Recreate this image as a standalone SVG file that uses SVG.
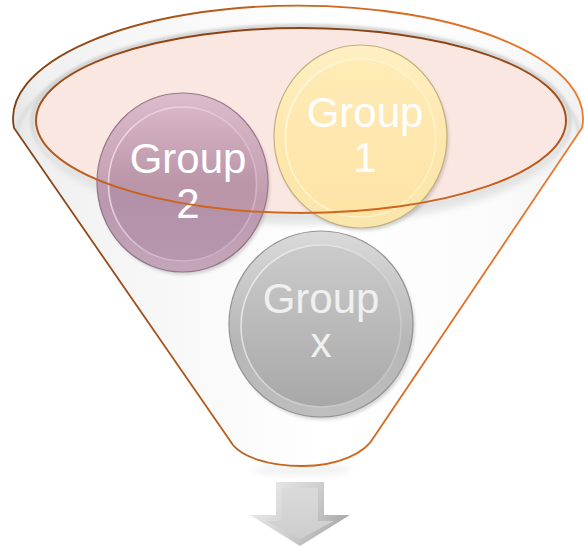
<svg xmlns="http://www.w3.org/2000/svg" width="584" height="547" viewBox="0 0 584 547">
  <style>
    .label { font-family: "Liberation Sans", Arial, sans-serif; font-size: 42px; text-anchor: middle; fill: #ffffff; }
    .label.dim { fill: #f0f0f0; }
    .edge { stroke-width: 1.2; }
    .face { stroke-width: 1.6; }
    .tint { fill: #f4baa9; fill-opacity: 0.12; }
  </style>
  <defs>
    <!-- funnel body shading -->
    <linearGradient id="bodyFill" gradientUnits="userSpaceOnUse" x1="10" y1="0" x2="584" y2="0">
      <stop offset="0" stop-color="#e4e4e4"/>
      <stop offset="0.05" stop-color="#f0f0f0"/>
      <stop offset="0.25" stop-color="#f7f7f7"/>
      <stop offset="0.55" stop-color="#ffffff"/>
      <stop offset="0.85" stop-color="#fbfbfb"/>
      <stop offset="1" stop-color="#f1f1f1"/>
    </linearGradient>
    <linearGradient id="outline" gradientUnits="userSpaceOnUse" x1="10" y1="0" x2="584" y2="0">
      <stop offset="0" stop-color="#7d3f12"/>
      <stop offset="0.45" stop-color="#c4621c"/>
      <stop offset="1" stop-color="#ee7a2a"/>
    </linearGradient>
    <linearGradient id="mouthStroke" gradientUnits="userSpaceOnUse" x1="0" y1="28" x2="0" y2="214">
      <stop offset="0" stop-color="#8a4314"/>
      <stop offset="0.5" stop-color="#a8521a"/>
      <stop offset="1" stop-color="#d2661e"/>
    </linearGradient>

    <!-- button gradients -->
    <linearGradient id="yRim" x1="0" y1="0" x2="0" y2="1">
      <stop offset="0" stop-color="#ffefc2"/>
      <stop offset="0.6" stop-color="#fee6ac"/>
      <stop offset="1" stop-color="#f9e6ad"/>
    </linearGradient>
    <linearGradient id="yFace" x1="0" y1="0" x2="0" y2="1">
      <stop offset="0" stop-color="#ffebb6"/>
      <stop offset="1" stop-color="#fee3a6"/>
    </linearGradient>
    <linearGradient id="yGloss" x1="0" y1="0" x2="1" y2="1">
      <stop offset="0" stop-color="#fffbe6"/>
      <stop offset="0.5" stop-color="#fff5cc"/>
      <stop offset="1" stop-color="#faf0b8"/>
    </linearGradient>

    <linearGradient id="pRim" x1="0" y1="0" x2="0" y2="1">
      <stop offset="0" stop-color="#d8bcd2"/>
      <stop offset="0.6" stop-color="#b997ae"/>
      <stop offset="1" stop-color="#c4a6ba"/>
    </linearGradient>
    <linearGradient id="pFace" x1="0" y1="0" x2="0" y2="1">
      <stop offset="0" stop-color="#d5b5cc"/>
      <stop offset="0.5" stop-color="#b290a8"/>
      <stop offset="1" stop-color="#b797ad"/>
    </linearGradient>
    <linearGradient id="pGloss" x1="0" y1="0" x2="1" y2="1">
      <stop offset="0" stop-color="#f4e2f0"/>
      <stop offset="0.5" stop-color="#dcc2d6"/>
      <stop offset="1" stop-color="#c6a6bc"/>
    </linearGradient>

    <linearGradient id="gRim" x1="0" y1="0" x2="0" y2="1">
      <stop offset="0" stop-color="#dadada"/>
      <stop offset="0.6" stop-color="#b6b6b6"/>
      <stop offset="1" stop-color="#bebebe"/>
    </linearGradient>
    <linearGradient id="gFace" x1="0" y1="0" x2="0" y2="1">
      <stop offset="0" stop-color="#cbcbcb"/>
      <stop offset="1" stop-color="#a8a8a8"/>
    </linearGradient>
    <linearGradient id="gGloss" x1="0" y1="0" x2="1" y2="1">
      <stop offset="0" stop-color="#f0f0f0"/>
      <stop offset="0.5" stop-color="#d6d6d6"/>
      <stop offset="1" stop-color="#bdbdbd"/>
    </linearGradient>

    <!-- arrow -->
    <linearGradient id="arrowBevel" gradientUnits="userSpaceOnUse" x1="250" y1="482" x2="350" y2="546">
      <stop offset="0" stop-color="#f2f2f2"/>
      <stop offset="0.5" stop-color="#cfcfcf"/>
      <stop offset="1" stop-color="#9c9c9c"/>
    </linearGradient>
    <linearGradient id="arrowFace" x1="0" y1="0" x2="0" y2="1">
      <stop offset="0" stop-color="#dadada"/>
      <stop offset="1" stop-color="#cdcdcd"/>
    </linearGradient>

    <filter id="soft" x="-20%" y="-20%" width="140%" height="140%">
      <feGaussianBlur stdDeviation="3"/>
    </filter>
    <filter id="softer" x="-30%" y="-30%" width="160%" height="160%">
      <feGaussianBlur stdDeviation="1.5"/>
    </filter>

    <ellipse id="mouth" cx="301" cy="120.5" rx="265" ry="92.5"/>
    <clipPath id="clip2"><ellipse cx="182.5" cy="182.5" rx="85.5" ry="89.5"/></clipPath>
    <clipPath id="funnelClip">
      <path d="M14,128 A285,113 0 1 1 582,128 L374,437 C366,452 340,466 302,466 C266,466 242,456 233,445 Z"/>
    </clipPath>
  </defs>

  <!-- funnel: body, rim and mouth -->
  <g id="funnel">
    <ellipse cx="302" cy="470" rx="50" ry="6" fill="#000" fill-opacity="0.05" filter="url(#soft)"/>
    <path d="M14,128 A285,113 0 1 1 582,128 L374,437 C366,452 340,466 302,466 C266,466 242,456 233,445 Z" fill="url(#bodyFill)"/>
    <g clip-path="url(#funnelClip)">
      <!-- grey bands of the rim -->
      <path d="M16,140 A282,110 0 1 1 580,140" fill="none" stroke="#dddddd" stroke-width="4" filter="url(#softer)"/>
      <ellipse cx="301" cy="121.5" rx="268.5" ry="95.5" fill="none" stroke="#cfcfcf" stroke-width="4" filter="url(#softer)"/>
      <!-- shading below the mouth -->
      <ellipse cx="301" cy="128" rx="262" ry="92" fill="none" stroke="#e6e6e6" stroke-width="10" filter="url(#soft)"/>
    </g>
    <path d="M14,128 A285,113 0 1 1 582,128 L374,437 C366,452 340,466 302,466 C266,466 242,456 233,445 Z" fill="none" stroke="url(#outline)" stroke-width="1.8"/>
    <use href="#mouth" fill="#fbe7e1"/>
  </g>

  <g id="group-1">
    <ellipse cx="362.5" cy="139.5" rx="86.5" ry="91.5" fill="#000" fill-opacity="0.15" filter="url(#softer)"/>
    <ellipse class="edge" cx="360.5" cy="136.5" rx="86.5" ry="91.5" fill="url(#yRim)" stroke="#c2b07e"/>
    <ellipse class="face" cx="360.5" cy="138" rx="75" ry="79" fill="url(#yFace)" stroke="url(#yGloss)"/>
    <text class="label" x="365" y="127">Group</text>
    <text class="label" x="365" y="172">1</text>
  </g>

  <g id="group-2">
    <ellipse cx="184.5" cy="185.5" rx="85.5" ry="89.5" fill="#000" fill-opacity="0.15" filter="url(#softer)"/>
    <ellipse class="edge" cx="182.5" cy="182.5" rx="85.5" ry="89.5" fill="url(#pRim)" stroke="#927488"/>
    <ellipse class="face" cx="182.5" cy="184" rx="74" ry="77" fill="url(#pFace)" stroke="url(#pGloss)"/>
    <use href="#mouth" class="tint" clip-path="url(#clip2)"/>
    <text class="label" x="188" y="173">Group</text>
    <text class="label" x="188" y="218">2</text>
  </g>

  <g id="group-x">
    <ellipse cx="323" cy="327" rx="92" ry="93" fill="#000" fill-opacity="0.15" filter="url(#softer)"/>
    <ellipse class="edge" cx="321" cy="324" rx="92" ry="93" fill="url(#gRim)" stroke="#939393"/>
    <ellipse class="face" cx="321" cy="326" rx="80" ry="81" fill="url(#gFace)" stroke="url(#gGloss)"/>
    <text class="label dim" x="321" y="313">Group</text>
    <text class="label dim" x="321" y="357">x</text>
  </g>

  <!-- outline of the funnel mouth, passing in front of the buttons -->
  <g id="mouth-edge">
    <use href="#mouth" fill="none" stroke="url(#mouthStroke)" stroke-width="2"/>
  </g>

  <g id="arrow">
    <polygon points="276,482 324,482 324,515 350,515 300,546 250,515 276,515" fill="url(#arrowBevel)"/>
    <polygon points="282,488 318,488 318,521 334,521 300,539 266,521 282,521" fill="url(#arrowFace)"/>
  </g>
</svg>
